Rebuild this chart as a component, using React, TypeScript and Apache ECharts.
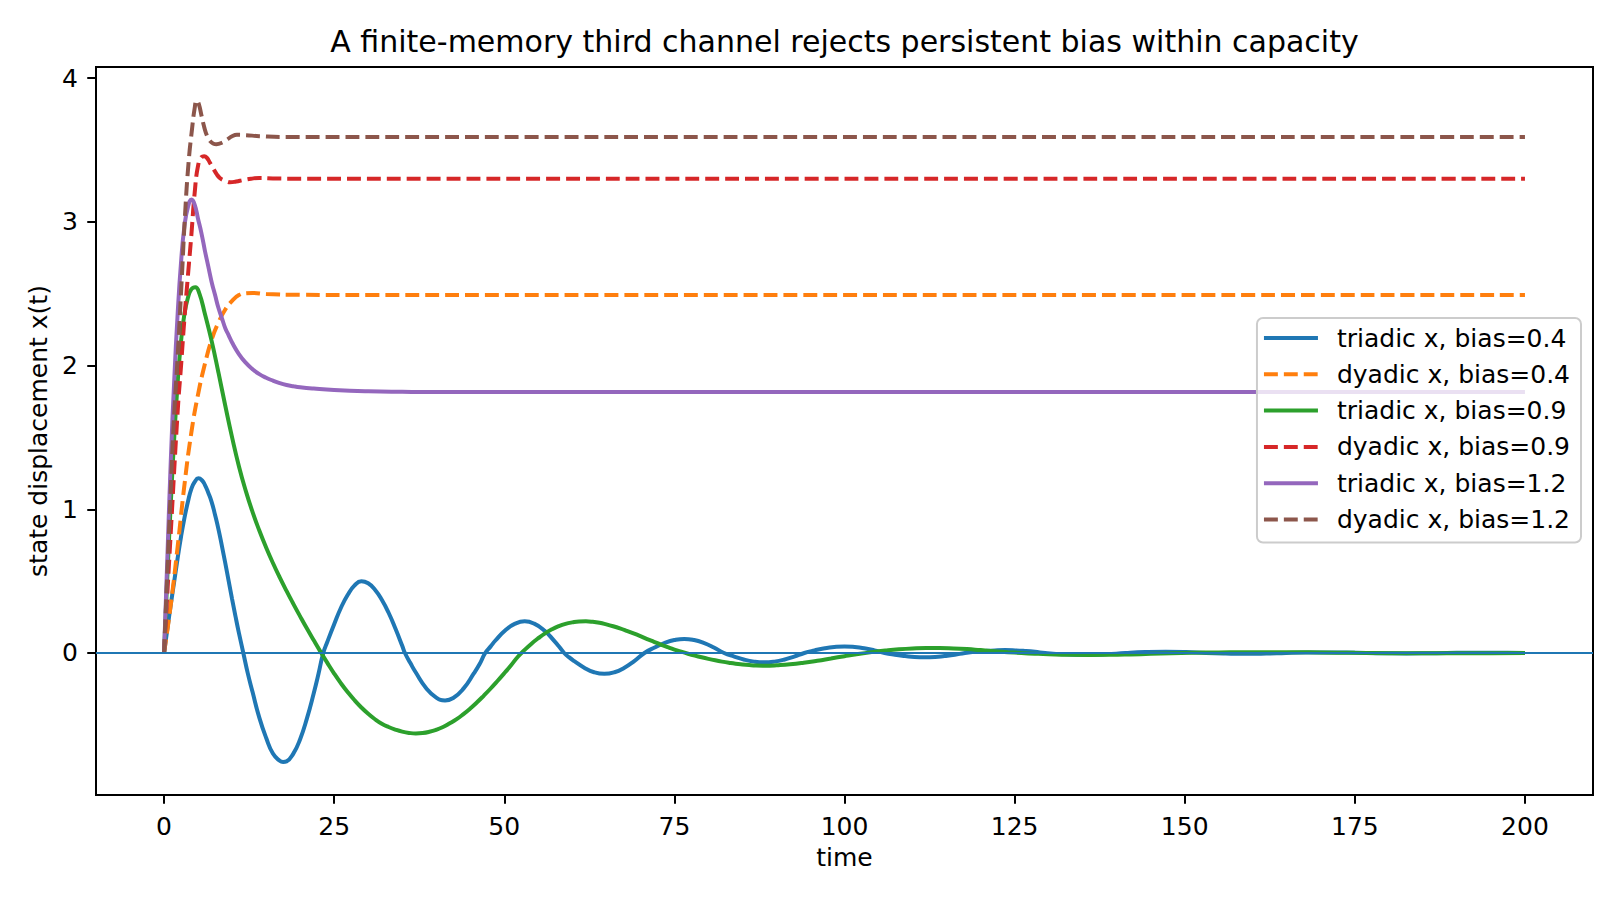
import React, { useEffect, useRef } from "react";
import * as echarts from "echarts";

const TITLE = "A finite-memory third channel rejects persistent bias within capacity";
const X_NAME = "time";
const Y_NAME = "state displacement x(t)";
const X_TICKS = [0, 25, 50, 75, 100, 125, 150, 175, 200];
const Y_TICKS = [0, 1, 2, 3, 4];
const NAMES = [
  "triadic x, bias=0.4",
  "dyadic x, bias=0.4",
  "triadic x, bias=0.9",
  "dyadic x, bias=0.9",
  "triadic x, bias=1.2",
  "dyadic x, bias=1.2",
];
const COLORS = ["#1f77b4", "#ff7f0e", "#2ca02c", "#d62728", "#9467bd", "#8c564b"];

// triadic, bias 0.4
const T_TRI04 = [0, 0.5, 1, 1.5, 2, 2.5, 3, 3.5, 4, 4.5, 5.05, 5.6, 6, 6.5, 7, 7.5, 8, 8.5, 9, 9.5, 10, 10.5, 11, 11.65,
  12.3, 13, 14, 15, 16, 17, 17.5, 18, 19, 20, 21, 22, 22.7, 23.4,
  24, 25, 26, 27, 28, 29, 30, 31, 32, 33, 34, 35, 35.4,
  36.2, 37, 38.5, 40, 41.3, 42.5, 44, 45.5, 46.4, 47.2,
  48, 48.7, 50.2, 51.6, 53, 54.4, 55.9, 57.4, 58.1, 58.8,
  59.5, 60.3, 61.8, 63.2, 64.7, 66.2, 67.6, 69.1, 70.6,
  72.1, 73.6, 75, 76.45, 77.9, 79.3, 80.8, 82.3,
  83.8, 85.3, 86.7, 88.2, 89.7, 91.1, 92.6, 94.1,
  95.6, 97.1, 98.5, 100, 101.5, 102.9, 104.4, 105.9,
  107.4, 108.9, 110.3, 111.8, 113.3, 114.7, 116.2, 117.7,
  119.2, 120.7, 122.1, 123.6, 125.1, 126.5, 128, 129.5,
  132.4, 135.4, 138.4, 141.3, 144.2, 147.2, 150.2, 153.1,
  156, 159, 162, 164.9, 167.8, 170.8, 173.8, 176.7,
  179.6, 182.6, 185.6, 188.5, 191.4, 194.4, 197.4, 200];
const V_TRI04 = [0, 0.17, 0.34, 0.5, 0.66, 0.81, 0.94, 1.05, 1.14, 1.19, 1.215, 1.2, 1.17, 1.115, 1.05, 0.96, 0.86, 0.745, 0.625, 0.5, 0.375, 0.255, 0.14, 0,
  -0.14, -0.27, -0.45, -0.59, -0.7, -0.75, -0.758, -0.754, -0.7, -0.6, -0.455, -0.28, -0.145, 0,
  0.078, 0.2, 0.315, 0.405, 0.47, 0.5, 0.485, 0.44, 0.37, 0.28, 0.17, 0.05, 0,
  -0.07, -0.136, -0.243, -0.31, -0.33, -0.313, -0.248, -0.144, -0.075, 0,
  0.046, 0.087, 0.16, 0.204, 0.22, 0.204, 0.156, 0.081, 0.042, 0,
  -0.029, -0.057, -0.104, -0.134, -0.145, -0.134, -0.104, -0.056, 0,
  0.038, 0.07, 0.09, 0.098, 0.09, 0.07, 0.038, 0,
  -0.025, -0.047, -0.06, -0.065, -0.06, -0.047, -0.025, 0,
  0.018, 0.033, 0.042, 0.046, 0.042, 0.033, 0.018, 0,
  -0.012, -0.021, -0.028, -0.03, -0.028, -0.021, -0.012, 0,
  0.008, 0.014, 0.018, 0.02, 0.018, 0.014, 0.008, 0,
  -0.009, -0.013, -0.009, 0, 0.0065, 0.009, 0.0065, 0,
  -0.004, -0.006, -0.004, 0, 0.003, 0.004, 0.003, 0,
  -0.002, -0.003, -0.002, 0, 0.0014, 0.002, 0.0014, 0.0001];

// dyadic, bias 0.4
const T_DY04 = [0, 1, 2, 3, 4, 5, 6, 7, 8, 9, 10, 11, 12, 13, 15, 20, 30, 200];
const V_DY04 = [0, 0.34, 0.74, 1.17, 1.53, 1.8, 2.01, 2.18, 2.3, 2.39, 2.45, 2.49, 2.503, 2.505, 2.498, 2.492, 2.49, 2.49];

// triadic, bias 0.9
const T_TRI09 = [0, 0.5, 1, 1.5, 2, 2.5, 3, 3.5, 4, 4.6, 5.2, 6, 7, 8, 9, 10, 11, 12, 13, 14, 15, 16, 17, 18, 19,
  20, 21, 22, 23, 24, 25, 26, 27, 28, 29, 30, 31, 32, 33, 34, 35, 36, 37, 38, 39,
  40, 41, 42, 43, 44, 45, 46, 47, 48, 49, 50, 51, 52, 53, 54, 55, 56, 57, 58, 59,
  60, 61, 62, 63, 64, 65, 66, 67, 68, 69, 70, 71, 72, 73, 74, 75, 76, 77, 78, 79,
  80, 81, 82, 83, 84, 85, 86, 87, 88, 89, 90, 92, 94, 96, 98, 100, 102, 104, 106, 108,
  110, 112, 114, 116, 118, 120, 122, 124, 126, 128, 130, 133, 136, 139, 142, 145, 148, 151, 155, 160,
  165, 170, 175, 180, 185, 190, 195, 200];
const V_TRI09 = [0, 0.55, 1.05, 1.5, 1.88, 2.17, 2.36, 2.47, 2.53, 2.545, 2.5, 2.36, 2.17, 1.95, 1.72, 1.5, 1.3, 1.13, 0.982, 0.852, 0.734, 0.626, 0.526, 0.432, 0.342,
  0.255, 0.17, 0.088, 0.008, -0.069, -0.143, -0.211, -0.273, -0.329, -0.379, -0.423, -0.461, -0.492, -0.515, -0.533, -0.547, -0.556, -0.56, -0.557, -0.548,
  -0.534, -0.515, -0.489, -0.46, -0.425, -0.386, -0.343, -0.296, -0.247, -0.195, -0.141, -0.085, -0.026, 0.022, 0.065, 0.103, 0.137, 0.165, 0.187, 0.203,
  0.213, 0.219, 0.22, 0.217, 0.21, 0.199, 0.186, 0.171, 0.154, 0.136, 0.117, 0.097, 0.078, 0.059, 0.041, 0.024, 0.009, -0.005, -0.018, -0.03,
  -0.041, -0.051, -0.06, -0.068, -0.075, -0.08, -0.084, -0.087, -0.088, -0.088, -0.086, -0.079, -0.068, -0.054, -0.038, -0.022, -0.007, 0.006, 0.017, 0.026,
  0.032, 0.035, 0.035, 0.032, 0.027, 0.02, 0.013, 0.006, 0, -0.005, -0.009, -0.013, -0.014, -0.013, -0.01, -0.006, -0.002, 0.001, 0.004, 0.006,
  0.006, 0.004, 0.001, -0.001, -0.002, -0.002, -0.001, 0];

// dyadic, bias 0.9
const T_DY09 = [0, 1, 2, 2.5, 3, 3.5, 4, 4.5, 5, 5.5, 5.9, 6.3, 6.75, 7.25, 7.75, 8.2, 8.7, 9.2, 9.7, 10.6, 11.6, 12.8, 14, 16, 20, 200];
const V_DY09 = [0, 0.85, 1.68, 2.0, 2.33, 2.62, 2.9, 3.2, 3.39, 3.45, 3.456, 3.445, 3.41, 3.37, 3.33, 3.305, 3.29, 3.28, 3.275, 3.28, 3.29, 3.3, 3.305, 3.302, 3.3, 3.3];

// triadic, bias 1.2
const T_TRI12 = [0, 0.5, 1, 1.5, 2, 2.5, 3, 3.5, 4.05, 4.5, 5, 5.5, 6, 6.5, 7, 7.5, 8, 8.5, 9, 9.5, 10, 11, 12, 13, 14, 15, 16, 17, 18, 19, 20, 22, 25, 30, 35, 40, 200];
const V_TRI12 = [0, 0.68, 1.35, 1.9, 2.36, 2.72, 2.97, 3.1, 3.155, 3.12, 3.02, 2.92, 2.8, 2.69, 2.58, 2.49, 2.4, 2.33, 2.26, 2.21, 2.16, 2.08, 2.02, 1.975, 1.94, 1.915, 1.895, 1.878, 1.865, 1.856, 1.849, 1.84, 1.83, 1.821, 1.817, 1.815, 1.815];

// dyadic, bias 1.2
const T_DY12 = [0, 1, 1.5, 2, 2.6, 3.1, 3.6, 4.1, 4.5, 4.8, 5.1, 5.5, 5.9, 6.3, 6.7, 7.2, 7.7, 8.5, 9.2, 10, 10.7, 12, 14, 18, 200];
const V_DY12 = [0, 1.15, 1.67, 2.06, 2.6, 3.06, 3.41, 3.64, 3.79, 3.845, 3.82, 3.74, 3.66, 3.6, 3.565, 3.545, 3.54, 3.55, 3.57, 3.595, 3.605, 3.603, 3.596, 3.59, 3.59];

const SERIES_T = [T_TRI04, T_DY04, T_TRI09, T_DY09, T_TRI12, T_DY12];
const SERIES_V = [V_TRI04, V_DY04, V_TRI09, V_DY09, V_TRI12, V_DY12];
const DASHED = [false, true, false, true, false, true];

const FONT = "DejaVu Sans";

export default function App() {
  const ref = useRef<HTMLDivElement>(null);
  useEffect(() => {
    document.body.style.margin = "0";
    if (!ref.current) return;
    const chart = echarts.init(ref.current, null, { renderer: "svg" });
    const dash = [13.9, 6];
    const series: any[] = NAMES.map((name, i) => ({
      name,
      type: "line",
      data: SERIES_T[i].map((t, k) => [t, SERIES_V[i][k]]),
      showSymbol: false,
      symbol: "none",
      smooth: 0.5,
      lineStyle: { color: COLORS[i], width: 4, type: DASHED[i] ? dash : "solid", cap: "butt" },
      itemStyle: { color: COLORS[i] },
      z: 2 + i * 0.01,
      silent: true,
    }));
    series[series.length - 1].markLine = {
      silent: true,
      symbol: "none",
      label: { show: false },
      lineStyle: { color: "#1f77b4", width: 2, type: "solid" },
      data: [{ yAxis: 0 }],
      z: 10,
    };
    chart.setOption({
      animation: false,
      backgroundColor: "#ffffff",
      textStyle: { fontFamily: FONT },
      graphic: [
        {
          type: "text",
          x: 844.5,
          y: 41,
          style: {
            text: TITLE,
            fontFamily: FONT,
            fontSize: 30,
            fill: "#000",
            align: "center",
            verticalAlign: "middle",
          },
        },
      ],
      grid: {
        left: 96,
        right: 27,
        top: 67,
        bottom: 105,
        show: true,
        borderColor: "#000",
        borderWidth: 2,
        backgroundColor: "transparent",
      },
      legend: {
        orient: "vertical",
        right: 39,
        top: 318,
        data: NAMES,
        itemWidth: 54,
        itemHeight: 14,
        itemGap: 8.3,
        padding: [6, 11, 9, 5],
        backgroundColor: "rgba(255,255,255,0.8)",
        borderColor: "#cccccc",
        borderWidth: 2,
        borderRadius: 6,
        itemStyle: { opacity: 0 },
        lineStyle: { width: 4 },
        textStyle: { fontFamily: FONT, fontSize: 25, color: "#000", lineHeight: 28, padding: [0, 0, 0, 14] },
      },
      xAxis: {
        type: "value",
        min: -10,
        max: 210,
        name: X_NAME,
        nameLocation: "middle",
        nameGap: 50,
        nameTextStyle: { fontFamily: FONT, fontSize: 25, color: "#000" },
        splitLine: { show: false },
        axisLine: { show: true, onZero: false, lineStyle: { color: "#000", width: 2 } },
        axisTick: { show: true, length: 8.75, lineStyle: { color: "#000", width: 2 }, customValues: X_TICKS },
        axisLabel: { fontFamily: FONT, fontSize: 25, color: "#000", margin: 19, customValues: X_TICKS },
      },
      yAxis: {
        type: "value",
        min: -0.988,
        max: 4.077,
        name: Y_NAME,
        nameLocation: "middle",
        nameGap: 44,
        nameRotate: 90,
        nameTextStyle: { fontFamily: FONT, fontSize: 25, color: "#000" },
        splitLine: { show: false },
        axisLine: { show: true, onZero: false, lineStyle: { color: "#000", width: 2 } },
        axisTick: { show: true, length: 8.75, lineStyle: { color: "#000", width: 2 }, customValues: Y_TICKS },
        axisLabel: { fontFamily: FONT, fontSize: 25, color: "#000", margin: 18, customValues: Y_TICKS },
      },
      series,
    });
    return () => chart.dispose();
  }, []);
  return (
    <div
      ref={ref}
      style={{ position: "fixed", left: 0, top: 0, width: 1620, height: 900, background: "#fff" }}
    />
  );
}
